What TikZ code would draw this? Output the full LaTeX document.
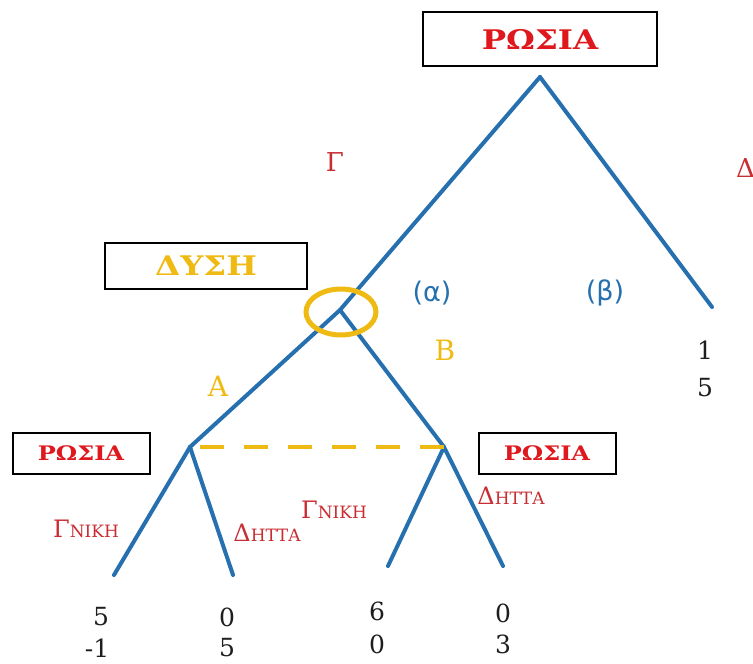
\documentclass[tikz,border=0pt]{standalone}
\usepackage{fontspec}
\setmainfont{DejaVu Serif}
\newfontfamily\labfont{DejaVu Sans}
\newfontfamily\widefont[FakeStretch=1.2]{DejaVu Serif}
\definecolor{tred}{RGB}{222,24,28}
\definecolor{lred}{RGB}{200,45,50}
\definecolor{tblue}{RGB}{38,112,175}
\definecolor{tyel}{RGB}{240,186,20}
\definecolor{tgray}{RGB}{30,30,30}
\tikzset{
  player/.style={draw=black,line width=2pt,fill=white,inner sep=0pt,minimum height=#1},
  branch/.style={tblue,line width=4pt,line cap=round},
  title/.style={font=\widefont\bfseries\fontsize{27}{27}\selectfont},
  stitle/.style={font=\widefont\bfseries\fontsize{20}{20}\selectfont},
  pay/.style={font=\fontsize{25}{25}\selectfont,text=tgray,inner sep=0pt},
  act/.style={text=lred,inner sep=0pt},
}
\newcommand{\smcap}[2]{{\fontsize{24}{24}\selectfont #1}{\fontsize{17}{17}\selectfont #2}}
\begin{document}
\begin{tikzpicture}[x=1pt,y=-1pt]
\useasboundingbox (0,0) rectangle (753,664);
% boxes
\node[player=54pt,minimum width=234pt,title,text=tred] (r0) at (540,39) {ΡΩΣΙΑ};
\node[player=46pt,minimum width=202pt,title,text=tyel] (dy) at (206,266) {ΔΥΣΗ};
\node[player=41pt,minimum width=137pt,stitle,text=tred] (r1) at (81,453) {ΡΩΣΙΑ};
\node[player=41pt,minimum width=137pt,stitle,text=tred] (r2) at (547,453) {ΡΩΣΙΑ};
% tree points
\coordinate (top) at (540,77);
\coordinate (rt) at (712,307);
\coordinate (w) at (340,310);
\coordinate (a) at (190,447);
\coordinate (b) at (444,447);
\coordinate (a1) at (114,575);
\coordinate (a2) at (233,575);
\coordinate (b1) at (388,566);
\coordinate (b2) at (503,566);
% branches
\draw[branch] (top) -- (rt);
\draw[branch] (top) -- (w) -- (a);
\draw[branch] (w) -- (b);
\draw[branch] (a) -- (a1);
\draw[branch] (a) -- (a2);
\draw[branch] (b) -- (b1);
\draw[branch] (b) -- (b2);
% information set
\draw[tyel,line width=5pt] (341,312) ellipse [x radius=35pt,y radius=23pt];
\draw[tyel,line width=4.5pt,dash pattern=on 24pt off 20pt] (200,447) -- (b);
% labels
\node[act,font=\fontsize{26}{26}\selectfont] (g) at (335,162) {Γ};
\node[act,font=\fontsize{26}{26}\selectfont,anchor=west] (d) at (736,168) {Δ};
\node[text=tblue,font=\labfont\fontsize{27}{27}\selectfont,inner sep=0pt] (al) at (432,293) {(α)};
\node[text=tblue,font=\labfont\fontsize{27}{27}\selectfont,inner sep=0pt] (be) at (605,293) {(β)};
\node[text=tyel,font=\fontsize{28}{28}\selectfont,inner sep=0pt] (B) at (445,350) {B};
\node[text=tyel,font=\fontsize{28}{28}\selectfont,inner sep=0pt] (A) at (218,386) {A};
\node[act] (l1) at (86,529) {\smcap{Γ}{ΝΙΚΗ}};
\node[act] (l2) at (267,533) {\smcap{Δ}{ΗΤΤΑ}};
\node[act] (l3) at (334,510) {\smcap{Γ}{ΝΙΚΗ}};
\node[act] (l4) at (511,496) {\smcap{Δ}{ΗΤΤΑ}};
% payoffs
\node[pay] (p1a) at (101,617) {5};
\node[pay] (p1b) at (97,648) {-1};
\node[pay] (p2a) at (227,617) {0};
\node[pay] (p2b) at (227,648) {5};
\node[pay] (p3a) at (377,611) {6};
\node[pay] (p3b) at (377,644) {0};
\node[pay] (p4a) at (503,613) {0};
\node[pay] (p4b) at (503,644) {3};
\node[pay] (p5a) at (705,350) {1};
\node[pay] (p5b) at (705,388) {5};
\end{tikzpicture}
\end{document}
